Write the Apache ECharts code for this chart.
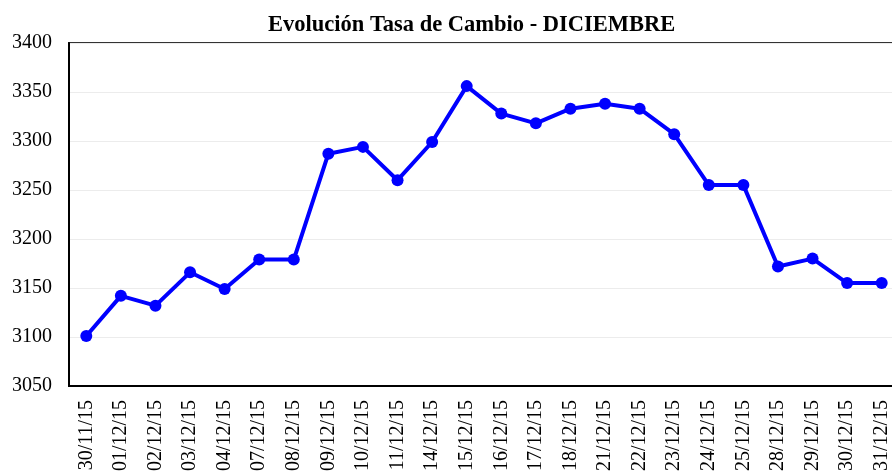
<!DOCTYPE html>
<html>
<head>
<meta charset="utf-8">
<script src="https://cdn.jsdelivr.net/npm/echarts@6/dist/echarts.min.js"></script>
<style>
  html, body { margin: 0; padding: 0; background: #fff; }
  #chart { width: 892px; height: 472px; }
</style>
</head>
<body>
<div id="chart"></div>
<script>
(function() {
  'use strict';

  var fechas = ['30/11/15','01/12/15','02/12/15','03/12/15','04/12/15','07/12/15','08/12/15','09/12/15',
    '10/12/15','11/12/15','14/12/15','15/12/15','16/12/15','17/12/15','18/12/15','21/12/15',
    '22/12/15','23/12/15','24/12/15','25/12/15','28/12/15','29/12/15','30/12/15','31/12/15'];
  var tasa = [3101, 3142, 3132, 3166, 3149, 3179, 3179, 3287,
    3294, 3260, 3299, 3356, 3328, 3318, 3333, 3338,
    3333, 3307, 3255, 3255, 3172, 3180, 3155, 3155];

  var fontSerif = '"Liberation Serif", "Times New Roman", serif';
  var colorLine = '#0000ff';

  var chart = echarts.init(document.getElementById('chart'));
  chart.setOption({
    animation: false,
    title: {
      text: 'Evolución Tasa de Cambio - DICIEMBRE',
      left: 263,
      top: 9,
      textStyle: { fontFamily: fontSerif, fontWeight: 'bold', fontSize: 22.5, color: '#000' }
    },
    grid: {
      left: 69, top: 43, width: 830, bottom: 86,
      outerBoundsMode: 'none',
      show: true, borderColor: '#333', borderWidth: 2
    },
    xAxis: {
      type: 'category',
      data: fechas,
      axisLine: { lineStyle: { color: '#000', width: 2 } },
      axisTick: { show: false },
      axisLabel: { rotate: 90, margin: 14, color: '#000', fontFamily: fontSerif, fontSize: 20 }
    },
    yAxis: {
      type: 'value',
      min: 3050,
      max: 3400,
      interval: 50,
      axisLine: { show: true, lineStyle: { color: '#000', width: 2 } },
      axisTick: { show: false },
      splitLine: { lineStyle: { color: '#ececec', width: 1 } },
      axisLabel: {
        margin: 17, color: '#000', fontFamily: fontSerif, fontSize: 20,
        formatter: function(v) { return String(v); }
      }
    },
    series: [{
      type: 'line',
      data: tasa,
      symbol: 'circle',
      symbolSize: 12,
      lineStyle: { color: colorLine, width: 4 },
      itemStyle: { color: colorLine }
    }]
  });
})();
</script>
</body>
</html>
